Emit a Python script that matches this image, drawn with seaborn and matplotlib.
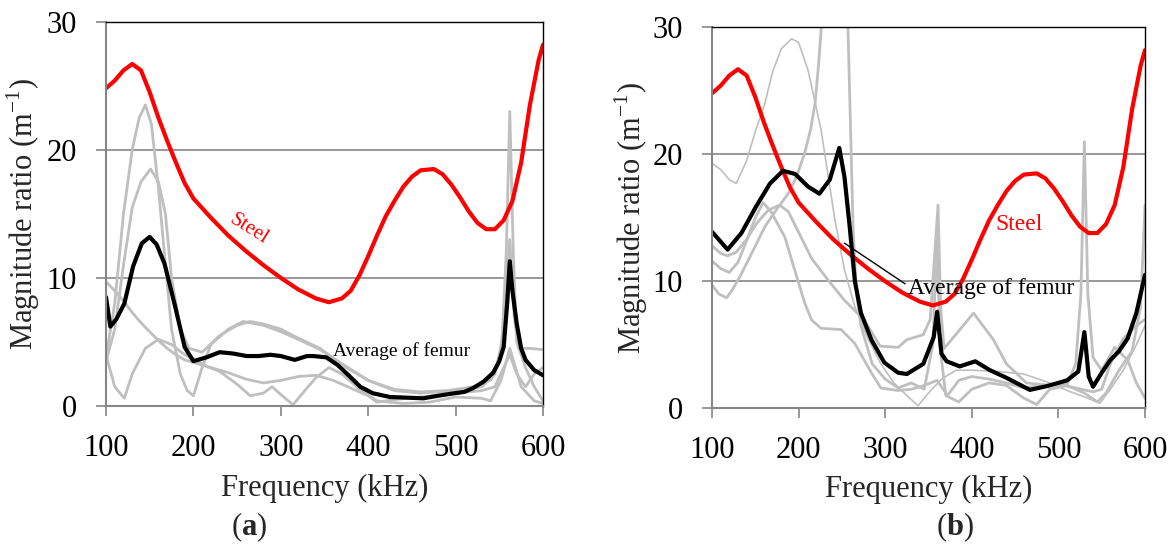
import numpy as np
import pandas as pd
import matplotlib
matplotlib.use("Agg")
import matplotlib.pyplot as plt
import seaborn as sns

# ---------------- data ----------------
steel_f = [100, 110, 120, 130, 140, 150, 160, 170, 180, 190, 200, 220, 240, 260, 280, 300, 320, 340, 355,
           370, 380, 390, 400, 410, 420, 430, 440, 450, 460, 475, 485, 495, 505, 515, 525, 535, 545, 555,
           565, 575, 585, 595, 600]
steel_v = [24.8, 25.4, 26.2, 26.7, 26.2, 24.5, 22.5, 20.7, 19.0, 17.4, 16.2, 14.7, 13.3, 12.1, 11.0, 10.0, 9.1,
           8.4, 8.1, 8.4, 9.0, 10.2, 11.7, 13.3, 14.8, 16.0, 17.1, 17.9, 18.4, 18.5, 18.1, 17.3, 16.3, 15.2,
           14.3, 13.8, 13.8, 14.5, 16.0, 19.0, 23.5, 27.0, 28.2]

# panel (a): average of femur
a_avg_f = [100, 105, 112, 121, 131, 141, 150, 158, 167, 179, 190, 200, 215, 230, 245, 261, 275, 288, 300, 316,
           330, 337, 352, 365, 379, 391, 405, 425, 445, 463, 480, 494, 510, 520, 532, 543, 550, 555, 559, 562,
           565, 570, 575, 580, 590, 600]
a_avg_v = [8.5, 6.2, 6.8, 8.0, 10.9, 12.7, 13.2, 12.6, 11.1, 7.8, 4.6, 3.5, 3.8, 4.2, 4.1, 3.9, 3.9, 4.0, 3.9,
           3.6, 3.9, 3.9, 3.8, 3.2, 2.3, 1.5, 1.0, 0.7, 0.65, 0.6, 0.8, 0.95, 1.1, 1.4, 1.9, 2.6, 3.5, 4.6, 8.0,
           11.3, 9.0, 6.4, 4.5, 3.6, 2.8, 2.4]

# panel (a): individual specimens
a_s1_f = [100, 110, 120, 130, 138, 145, 152, 160, 168, 175, 185, 193, 200, 210, 220, 240, 257, 280, 300, 320,
          345, 370, 400, 430, 460, 500, 530, 545, 553, 558, 562, 566, 570, 580, 590, 600]
a_s1_v = [3.8, 8.0, 15.0, 20.0, 22.5, 23.5, 22.0, 17.0, 11.0, 6.0, 2.5, 1.2, 0.8, 3.0, 4.8, 6.0, 6.6, 6.3, 5.8,
          5.2, 4.4, 3.3, 2.0, 1.2, 1.0, 1.2, 1.5, 2.5, 5.0, 12.0, 23.0, 12.0, 5.0, 3.0, 1.5, 0.4]
a_s2_f = [100, 110, 120, 130, 140, 151, 160, 168, 175, 185, 195, 210, 230, 250, 265, 280, 300, 320, 345, 370,
          400, 430, 460, 490, 520, 540, 550, 556, 562, 567, 572, 585, 600]
a_s2_v = [3.5, 6.0, 11.0, 15.5, 17.5, 18.5, 17.5, 15.0, 10.0, 6.0, 4.5, 4.2, 5.5, 6.3, 6.6, 6.4, 6.0, 5.3, 4.5,
          3.2, 2.0, 1.3, 1.1, 1.2, 1.5, 2.0, 3.5, 7.0, 13.0, 7.0, 4.5, 4.5, 4.4]
a_s3_f = [100, 110, 120, 130, 140, 150, 160, 170, 180, 190, 200, 220, 240, 260, 280, 300, 320, 340, 360, 380,
          400, 410, 430, 460, 500, 530, 545, 555, 562, 570, 580, 590, 600]
a_s3_v = [9.7, 9.0, 8.2, 7.3, 6.5, 5.8, 5.1, 4.5, 4.0, 3.6, 3.4, 3.0, 2.6, 2.1, 1.8, 2.0, 2.3, 2.4, 2.0, 1.4,
          0.8, 0.3, 0.5, 0.7, 1.0, 1.2, 1.5, 3.0, 4.0, 2.5, 1.5, 2.5, 3.0]
a_s4_f = [100, 110, 121, 130, 145, 160, 175, 190, 200, 215, 230, 250, 265, 280, 290, 305, 314, 325, 340, 355,
          370, 390, 410, 440, 470, 500, 530, 540, 552, 562, 575, 590, 600]
a_s4_v = [4.0, 1.5, 0.6, 2.5, 4.5, 5.2, 4.8, 4.0, 3.7, 3.1, 2.7, 1.7, 0.8, 1.0, 1.5, 0.6, 0.1, 1.0, 2.2, 3.0,
          2.5, 1.3, 0.4, 0.2, 0.3, 0.7, 0.6, 0.4, 2.0, 4.5, 1.5, 0.4, 0.2]

# panel (b): average of femur
b_avg_f = [100, 118, 134, 151, 167, 182, 196, 211, 224, 236, 247, 253, 259, 265, 272, 284, 299, 315, 325, 344,
           356, 360, 365, 371, 386, 404, 421, 440, 467, 487, 510, 523, 530, 535, 540, 550, 560, 570, 580, 590,
           600]
b_avg_v = [13.9, 12.5, 13.8, 15.9, 17.7, 18.7, 18.45, 17.45, 16.9, 18.0, 20.5, 18.2, 14.3, 10.0, 7.5, 5.4, 3.6,
           2.8, 2.7, 3.5, 5.6, 7.6, 4.3, 3.7, 3.3, 3.7, 3.0, 2.4, 1.45, 1.75, 2.2, 2.9, 6.0, 2.5, 1.7, 2.8,
           3.8, 4.5, 5.5, 7.5, 10.5]

# panel (b): individual specimens
b_s1_f = [100, 110, 120, 128, 140, 150, 161, 170, 180, 192, 200, 211, 226, 242, 253, 265, 280, 295, 310, 325,
          338, 350, 365, 382, 400, 430, 460, 490, 510, 530, 548, 560, 575, 590, 600]
b_s1_v = [19.3, 18.8, 18.0, 17.7, 19.5, 21.8, 24.0, 26.5, 28.3, 29.1, 28.8, 26.6, 21.9, 14.8, 10.9, 8.0, 5.5,
          3.5, 2.0, 1.0, 0.2, 1.2, 2.3, 3.0, 3.0, 2.9, 2.7, 2.0, 1.4, 0.9, 0.4, 1.5, 3.0, 5.0, 6.5]
b_s2_f = [100, 108, 117, 125, 134, 148, 161, 175, 188, 198, 207, 214, 219, 223, 226, 232, 243, 252, 257, 260,
          263, 267, 272, 285, 300, 315, 330, 345, 355, 360, 363, 370, 385, 400, 420, 440, 460, 475, 490, 510,
          530, 545, 555, 570, 585, 595, 600]
b_s2_v = [9.7, 9.0, 8.7, 9.5, 10.6, 12.5, 14.3, 15.7, 16.9, 18.3, 20.1, 22.0, 24.0, 27.0, 29.8, 36.0, 40.0,
          36.0, 30.0, 22.0, 14.0, 9.0, 6.5, 3.5, 2.3, 1.6, 2.0, 1.5, 5.0, 14.0, 5.0, 1.0, 0.5, 1.5, 2.0, 1.8,
          0.8, 0.3, 1.5, 1.8, 1.2, 0.5, 1.2, 3.0, 4.5, 8.0, 16.0]
b_s3_f = [100, 110, 120, 130, 140, 150, 159, 168, 176, 184, 199, 207, 215, 226, 249, 265, 284, 295, 315, 330,
          345, 360, 372, 385, 400, 420, 440, 460, 480, 500, 520, 540, 550, 560, 575, 590, 600]
b_s3_v = [11.6, 11.0, 10.7, 11.5, 13.2, 15.0, 16.2, 15.5, 14.5, 13.5, 10.1, 8.3, 6.95, 6.3, 6.2, 5.1, 2.8, 1.6,
          1.4, 1.5, 1.8, 2.2, 1.0, 2.2, 2.5, 2.3, 2.0, 1.6, 1.8, 1.9, 1.6, 1.3, 1.5, 3.5, 5.5, 6.5, 7.0]
b_s4_f = [100, 110, 118, 128, 140, 152, 165, 178, 188, 199, 215, 234, 253, 276, 294, 315, 325, 344, 352, 357,
          361, 364, 368, 379, 402, 425, 440, 463, 490, 510, 520, 526, 530, 534, 540, 550, 565, 580, 590, 600]
b_s4_v = [12.8, 12.2, 12.0, 12.3, 13.3, 14.6, 15.6, 16.0, 15.5, 14.0, 11.8, 10.1, 8.5, 6.95, 4.9, 4.8, 5.4,
          5.8, 7.0, 12.0, 16.0, 8.0, 4.7, 5.6, 7.5, 5.4, 3.5, 2.0, 1.8, 1.9, 3.5, 9.0, 21.0, 9.0, 4.0, 3.0,
          4.8, 3.8, 2.0, 0.8]

x_ticks = [100, 200, 300, 400, 500, 600]
y_ticks = [0, 10, 20, 30]

# ---------------- style ----------------
sns.set_theme(style="white")
plt.rcParams['font.family'] = ['Liberation Serif', 'DejaVu Serif']
plt.rcParams['mathtext.fontset'] = 'custom'
plt.rcParams['mathtext.rm'] = 'Liberation Serif'
plt.rcParams['mathtext.bf'] = 'Liberation Serif:bold'

GRAY = '#BFBFBF'
AXGRAY = '#868686'
FS = 22

fig = plt.figure(figsize=(11.75, 5.48), dpi=100)
axA = fig.add_axes([106 / 1175, 1 - 406 / 548, 437 / 1175, 384.3 / 548])
axB = fig.add_axes([712 / 1175, 1 - 408.3 / 548, 433 / 1175, 381 / 548])


def draw(ax, f, v, color, lw):
    sns.lineplot(x=f, y=v, ax=ax, color=color, linewidth=lw, sort=False, estimator=None,
                 solid_joinstyle='round', solid_capstyle='round')


def style_axes(ax, ylab_x, xlab_y):
    ax.set_xlim(100, 600)
    ax.set_ylim(0, 30)
    ax.set_xticks(x_ticks)
    ax.set_yticks(y_ticks)
    ax.set_xticklabels([str(t) for t in x_ticks], fontsize=FS)
    ax.set_yticklabels([str(t) for t in y_ticks], fontsize=FS)
    for y in [10, 20]:
        ax.axhline(y, color=AXGRAY, lw=1.2, zorder=0)
    ax.spines['left'].set_color(AXGRAY)
    ax.spines['bottom'].set_color(AXGRAY)
    ax.spines['left'].set_linewidth(1.5)
    ax.spines['bottom'].set_linewidth(1.5)
    ax.spines['top'].set_color('black')
    ax.spines['right'].set_color('black')
    ax.spines['top'].set_linewidth(1.0)
    ax.spines['right'].set_linewidth(1.0)
    ax.tick_params(axis='x', direction='out', color=AXGRAY, width=1.2, length=7, pad=13,
                   labelcolor='black', bottom=True)
    ax.tick_params(axis='y', direction='out', color=AXGRAY, width=1.2, length=7, pad=14,
                   labelcolor='black', left=True)
    ax.set_xlabel('Frequency (kHz)', fontsize=FS)
    ax.set_ylabel(r'Magnitude ratio (m$^{\mathregular{-1}}$)', fontsize=FS)
    ax.yaxis.set_label_coords(ylab_x, 0.5)
    ax.xaxis.set_label_coords(0.5, xlab_y)
    ax.grid(False)


# panel (a)
for f, v in [(a_s1_f, a_s1_v), (a_s2_f, a_s2_v), (a_s3_f, a_s3_v), (a_s4_f, a_s4_v)]:
    draw(axA, f, v, GRAY, 2.0)
draw(axA, steel_f, steel_v, '#FF0000', 3.0)
draw(axA, a_avg_f, a_avg_v, 'black', 3.0)
style_axes(axA, -0.146, -0.177)
axA.text(263, 13.8, 'Steel', color='#FF0000', fontsize=15, rotation=-32, ha='center', va='center')
axA.text(360, 4.3, 'Average of femur', color='black', fontsize=14, ha='left', va='center')

# panel (b)
draw(axB, b_s1_f, b_s1_v, GRAY, 1.2)
for f, v in [(b_s2_f, b_s2_v), (b_s3_f, b_s3_v), (b_s4_f, b_s4_v)]:
    draw(axB, f, v, GRAY, 2.0)
draw(axB, steel_f, steel_v, '#FF0000', 3.0)
draw(axB, b_avg_f, b_avg_v, 'black', 3.0)
style_axes(axB, -0.143, -0.174)
axB.text(455, 14.5, 'Steel', color='#FF0000', fontsize=17, ha='center', va='center')
axB.text(326, 9.4, 'Average of femur', color='black', fontsize=17, ha='left', va='center')
axB.plot([253, 323], [13.0, 9.8], color='black', lw=1.0)

fig.text(249 / 1175, 1 - 527 / 548, r'($\mathbf{a}$)', fontsize=FS, ha='center', va='center')
fig.text(955 / 1175, 1 - 527 / 548, r'($\mathbf{b}$)', fontsize=FS, ha='center', va='center')

fig.savefig('out.png', dpi=100)
